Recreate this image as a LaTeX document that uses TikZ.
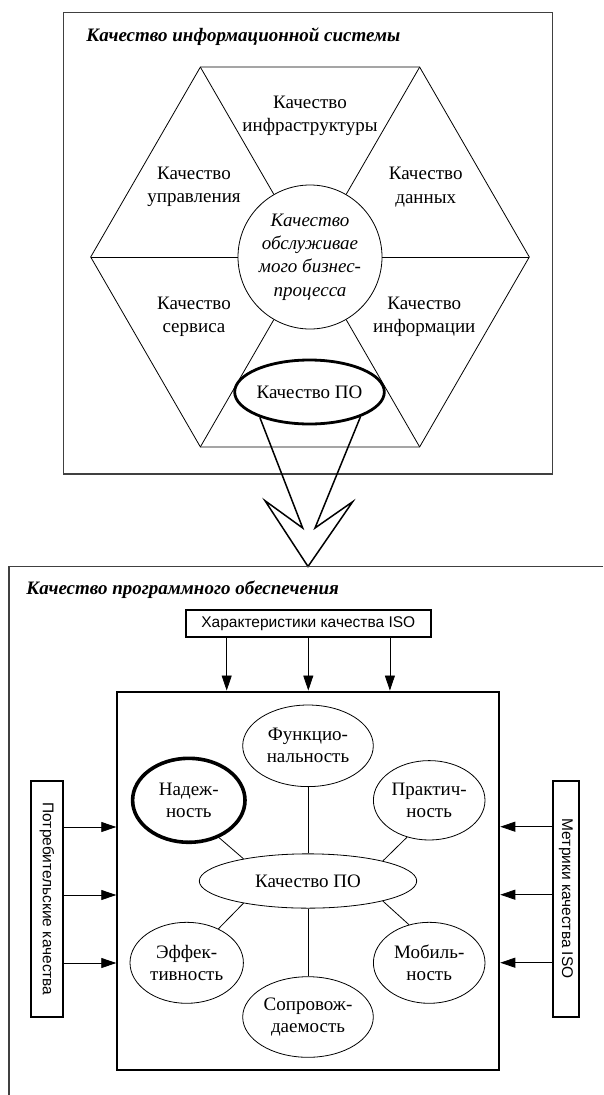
\documentclass[tikz,border=0pt]{standalone}
\usepackage{fontspec}
\setmainfont{Liberation Serif}
\setsansfont{Liberation Sans}
\usetikzlibrary{shapes.geometric,arrows.meta}
\begin{document}
\begin{tikzpicture}[x=1pt,y=-1pt,line width=0.8pt,
  frame/.style={draw=black!75,line width=1.3pt},
  txt/.style={align=center,inner sep=0pt,font=\fontsize{19}{23.5}\selectfont},
  part/.style={ellipse,draw,fill=white,inner sep=0pt,align=center,font=\fontsize{19}{22}\selectfont},
  iso/.style={draw,line width=1.8pt,inner sep=0pt,font=\sffamily\fontsize{15.5}{18}\selectfont},
  feed/.style={-{Triangle[length=15pt,width=10pt]}},
  head/.style={anchor=west,inner sep=0pt,font=\bfseries\itshape\fontsize{19}{23}\selectfont}]
\useasboundingbox (0,0) rectangle (603,1095);
% information system
\draw[frame] (63.3,12.7) rectangle (552.7,474);
\node[head] (t1) at (86,37) {Качество информационной системы};
\foreach \a in {0,60,...,300}
{
\path (310,257) ++(\a:219.3) coordinate (v\a);
}
\draw (v0) -- (v60) -- (v120) -- (v180) -- (v240) -- (v300) -- cycle;
\node[circle,draw,minimum size=144,txt,font=\itshape\fontsize{19}{23.3}\selectfont] (bp) at (310,257) {Качество\\обслуживае\\мого бизнес-\\процесса};
\foreach \a in {0,60,...,300}
{
\draw (v\a) -- (bp);
}
\node[txt] (infra) at (310,116) {Качество\\инфраструктуры};
\node[txt] (mgmt) at (194,187) {Качество\\управления};
\node[txt] (data) at (425.7,187) {Качество\\данных};
\node[txt] (serv) at (194,316.7) {Качество\\сервиса};
\node[txt] (info) at (424.3,316.7) {Качество\\информации};
\node[part,line width=2.8pt,minimum width=149,minimum height=64] (po) at (309.5,392) {Качество ПО};
% big hollow arrow
\coordinate (b1) at (302.7,528);
\coordinate (w1) at (265,500.7);
\coordinate (tip) at (308,566.5);
\coordinate (w2) at (352.7,501.7);
\coordinate (b2) at (315,528);
\draw[line width=1.5pt] (po.-153) -- (b1) -- (w1) -- (tip) -- (w2) -- (b2) -- (po.-26);
% software quality
\draw[frame] (603,566.7) -- (9,566.7) -- (9,1095);
\node[head] (t2) at (26,590) {Качество программного обеспечения};
\node[iso,minimum width=244.7,minimum height=27.3] (char) at (308.3,623.7) {Характеристики качества ISO};
\node[draw,line width=2pt,minimum width=382,minimum height=378.5] (inner) at (308.3,880.8) {};
\node[iso,minimum width=32.6,minimum height=236.6] (cons) at (47,899) {\rotatebox{-90}{Потребительские качества}};
\node[iso,minimum width=26.6,minimum height=236] (metr) at (566,898.7) {\rotatebox{-90}{Метрики качества ISO}};
\foreach \s in {-81.6,0,81.6}
{
\path ([xshift=\s]char.south) coordinate (c);
\draw[feed] (c) -- (c |- inner.north);
}
\foreach \s in {72,4,-64}
{
\path ([yshift=\s]cons.east) coordinate (l);
\path ([yshift=\s]metr.west) coordinate (r);
\draw[feed] (l) -- (l -| inner.west);
\draw[feed] (r) -- (r -| inner.east);
}
\node[part,minimum width=130.6,minimum height=81.6] (fun) at (308,745.8) {Функцио-\\нальность};
\node[part,line width=3.6pt,minimum width=112.4,minimum height=84] (rel) at (188.8,800.3) {Надеж-\\ность};
\node[part,minimum width=111.6,minimum height=79.4] (use) at (429.2,800.3) {Практич-\\ность};
\node[part,minimum width=217.4,minimum height=54.3] (sw) at (308,881) {Качество ПО};
\node[part,minimum width=113.4,minimum height=81] (eff) at (186.7,962.8) {Эффек-\\тивность};
\node[part,minimum width=130.6,minimum height=80.6] (mnt) at (308,1017) {Сопровож-\\даемость};
\node[part,minimum width=111.6,minimum height=81] (mob) at (429.2,962.8) {Мобиль-\\ность};
\draw (fun) -- (sw);
\draw (mnt) -- (sw);
\draw (rel.-51) -- (sw.161.6);
\draw (use.-121) -- (sw.15.6);
\draw (eff.47.5) -- (sw.-161);
\draw (mob.118.4) -- (sw.-15);
\end{tikzpicture}
\end{document}
